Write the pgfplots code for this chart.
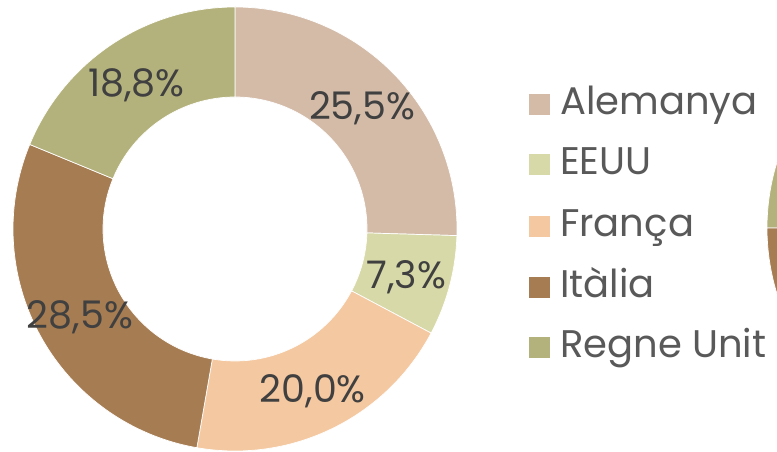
\documentclass[border=0pt]{standalone}
\usepackage{pgfplots}
\pgfplotsset{compat=1.18}
\usepackage{fontspec}
\setmainfont{Poppins}
\definecolor{cA}{HTML}{D3BBA8}
\definecolor{cB}{HTML}{D8D9A8}
\definecolor{cC}{HTML}{F4C8A0}
\definecolor{cD}{HTML}{A67C52}
\definecolor{cE}{HTML}{B4B27C}
\definecolor{lab}{HTML}{404040}
\definecolor{leg}{HTML}{595959}
\def\cum{0}
\def\tot{100.1}
\newcommand\slice[3]{%
  \pgfmathsetmacro\sa{90-(360/\tot)*\cum}%
  \pgfmathsetmacro\cumnew{\cum+#1}%
  \pgfmathsetmacro\sb{90-(360/\tot)*\cumnew}%
  \pgfmathsetmacro\sm{(\sa+\sb)/2}%
  \xdef\cum{\cumnew}%
  \edef\temp{\noexpand\fill[#2, draw=white, line width=0.7pt, shift={(axis cs:235,223)}]
     (\sa:222pt) arc[start angle=\sa, end angle=\sb, radius=222pt]
     -- (\sb:132pt) arc[start angle=\sb, end angle=\sa, radius=132pt] -- cycle;
     \noexpand\node[text=lab, font=\noexpand\fontsize{38}{40}\noexpand\selectfont, shift={(axis cs:235,220)}] at (\sm:177pt) {\unexpanded{#3}};}%
  \temp}
\newcommand\legitem[3]{%
  \fill[#1] (axis cs:529,#2) rectangle (axis cs:550,#2+21);
  \node[anchor=base west, text=leg, font=\fontsize{38.5}{40}\selectfont, inner sep=0pt] at (axis cs:560,#2) {#3};}
\begin{document}
\begin{tikzpicture}
\begin{axis}[name=ax, width=777pt, height=452pt, scale only axis,
  xmin=0, xmax=777, ymin=0, ymax=452, hide axis, clip=true]
\addplot[draw=none] coordinates {(0,0)};
\slice{25.5}{cA}{25,5\%}
\slice{7.3}{cB}{7,3\%}
\slice{20.0}{cC}{20,0\%}
\slice{28.5}{cD}{28,5\%}
\slice{18.8}{cE}{18,8\%}
% partial second chart at the right edge
\fill[cE, draw=white, line width=0.7pt, shift={(axis cs:989,224)}] (180:222pt) arc[start angle=180, end angle=120, radius=222pt] -- (120:132pt) arc[start angle=120, end angle=180, radius=132pt] -- cycle;
\fill[cD, draw=white, line width=0.7pt, shift={(axis cs:989,224)}] (180:222pt) arc[start angle=180, end angle=250, radius=222pt] -- (250:132pt) arc[start angle=250, end angle=180, radius=132pt] -- cycle;
\legitem{cA}{337}{Alemanya}
\legitem{cB}{277}{EEUU}
\legitem{cC}{215}{França}
\legitem{cD}{154}{Itàlia}
\legitem{cE}{94}{Regne Unit}
\end{axis}
\pgfresetboundingbox
\path[use as bounding box] (ax.south west) rectangle (ax.north east);
\end{tikzpicture}
\end{document}
